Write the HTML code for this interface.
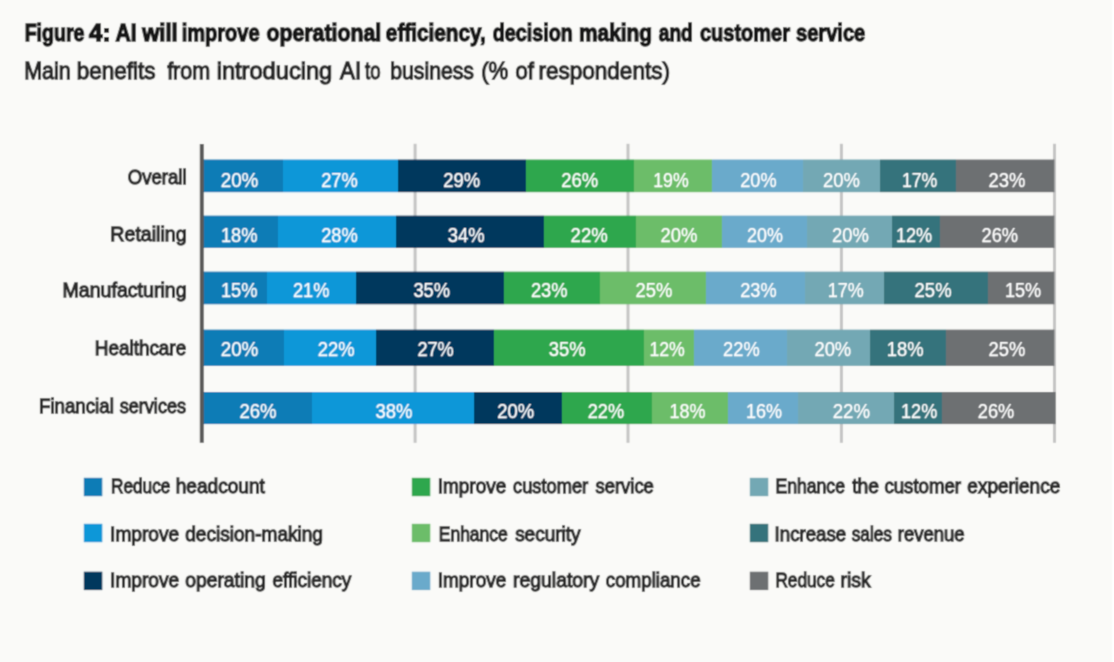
<!DOCTYPE html>
<html lang="en">
<head>
<meta charset="utf-8">
<title>Figure 4: AI will improve operational efficiency, decision making and customer service</title>
<style>
html,body{margin:0;padding:0;background:#fafaf8;}
body{width:1114px;height:662px;overflow:hidden;}
svg{display:block;}
text{font-family:"Liberation Sans",sans-serif;white-space:pre;}
.t{font-weight:bold;font-size:24.3px;fill:#151515;stroke:#151515;stroke-width:1.4px;}
.s{font-size:24px;fill:#272727;stroke:#272727;stroke-width:1.3px;}
.c{font-size:20.5px;fill:#2b2b2b;stroke:#2b2b2b;stroke-width:1.3px;}
.v{font-size:19.6px;fill:#fff;stroke:#fff;stroke-width:0.25px;}
.l{font-size:20.6px;fill:#2b2b2b;stroke:#2b2b2b;stroke-width:1.3px;}
</style>
</head>
<body>
<svg width="1114" height="662" viewBox="0 0 1114 662">
<g filter="url(#soft)">
<rect x="-30" y="-30" width="1174" height="722" fill="#fafaf8"/>
<rect x="1112" y="-30" width="40" height="722" fill="#ffffff"/>
<text class="t" y="40.6"><tspan x="24.68" textLength="59.77" lengthAdjust="spacingAndGlyphs">Figure</tspan> <tspan x="89.04" textLength="21.50" lengthAdjust="spacingAndGlyphs">4:</tspan> <tspan x="115.47" textLength="21.05" lengthAdjust="spacingAndGlyphs">AI</tspan> <tspan x="142.16" textLength="35.52" lengthAdjust="spacingAndGlyphs">will</tspan> <tspan x="181.70" textLength="77.96" lengthAdjust="spacingAndGlyphs">improve</tspan> <tspan x="266.45" textLength="114.74" lengthAdjust="spacingAndGlyphs">operational</tspan> <tspan x="385.87" textLength="99.82" lengthAdjust="spacingAndGlyphs">efficiency,</tspan> <tspan x="492.81" textLength="79.91" lengthAdjust="spacingAndGlyphs">decision</tspan> <tspan x="578.94" textLength="73.14" lengthAdjust="spacingAndGlyphs">making</tspan> <tspan x="658.83" textLength="33.92" lengthAdjust="spacingAndGlyphs">and</tspan> <tspan x="700.00" textLength="89.98" lengthAdjust="spacingAndGlyphs">customer</tspan> <tspan x="796.00" textLength="69.26" lengthAdjust="spacingAndGlyphs">service</tspan></text>
<text class="s" y="79.0"><tspan x="24.18" textLength="46.51" lengthAdjust="spacingAndGlyphs">Main</tspan> <tspan x="76.79" textLength="78.75" lengthAdjust="spacingAndGlyphs">benefits</tspan> <tspan x="167.13" textLength="43.02" lengthAdjust="spacingAndGlyphs">from</tspan> <tspan x="216.65" textLength="115.63" lengthAdjust="spacingAndGlyphs">introducing</tspan> <tspan x="340.09" textLength="21.12" lengthAdjust="spacingAndGlyphs">AI</tspan> <tspan x="365.07" textLength="15.45" lengthAdjust="spacingAndGlyphs">to</tspan> <tspan x="390.27" textLength="83.71" lengthAdjust="spacingAndGlyphs">business</tspan> <tspan x="481.16" textLength="27.16" lengthAdjust="spacingAndGlyphs">(%</tspan> <tspan x="515.52" textLength="18.31" lengthAdjust="spacingAndGlyphs">of</tspan> <tspan x="538.59" textLength="131.30" lengthAdjust="spacingAndGlyphs">respondents)</tspan></text>
<rect x="413.6" y="143.8" width="3" height="299" fill="#c4c4c4"/>
<rect x="626.5" y="143.8" width="3" height="299" fill="#c4c4c4"/>
<rect x="839.9" y="143.8" width="3" height="299" fill="#c4c4c4"/>
<rect x="1053.0" y="143.8" width="3" height="299" fill="#c4c4c4"/>
<defs>
<filter id="soft" x="-20" y="-20" width="1154" height="702" filterUnits="userSpaceOnUse"><feConvolveMatrix order="3" kernelMatrix="0.0900 0.3000 0.0900 0.3000 1.0000 0.3000 0.0900 0.3000 0.0900" edgeMode="duplicate" preserveAlpha="true"/></filter>
<linearGradient id="g0" gradientUnits="userSpaceOnUse" x1="203.0" y1="0" x2="1054.4" y2="0"><stop offset="0.00000" stop-color="#0b7cb6"/><stop offset="0.09396" stop-color="#0b7cb6"/><stop offset="0.09396" stop-color="#0d97d8"/><stop offset="0.22915" stop-color="#0d97d8"/><stop offset="0.22915" stop-color="#05375d"/><stop offset="0.37926" stop-color="#05375d"/><stop offset="0.37926" stop-color="#2fa74e"/><stop offset="0.50646" stop-color="#2fa74e"/><stop offset="0.50646" stop-color="#6cbd69"/><stop offset="0.59796" stop-color="#6cbd69"/><stop offset="0.59796" stop-color="#6aaacb"/><stop offset="0.70472" stop-color="#6aaacb"/><stop offset="0.70472" stop-color="#73a8b4"/><stop offset="0.79528" stop-color="#73a8b4"/><stop offset="0.79528" stop-color="#36737b"/><stop offset="0.88490" stop-color="#36737b"/><stop offset="0.88490" stop-color="#6d7072"/><stop offset="1.00000" stop-color="#6d7072"/></linearGradient>
<linearGradient id="g1" gradientUnits="userSpaceOnUse" x1="203.0" y1="0" x2="1054.4" y2="0"><stop offset="0.00000" stop-color="#0b7cb6"/><stop offset="0.08774" stop-color="#0b7cb6"/><stop offset="0.08774" stop-color="#0d97d8"/><stop offset="0.22692" stop-color="#0d97d8"/><stop offset="0.22692" stop-color="#05375d"/><stop offset="0.40075" stop-color="#05375d"/><stop offset="0.40075" stop-color="#2fa74e"/><stop offset="0.50857" stop-color="#2fa74e"/><stop offset="0.50857" stop-color="#6cbd69"/><stop offset="0.60958" stop-color="#6cbd69"/><stop offset="0.60958" stop-color="#6aaacb"/><stop offset="0.70918" stop-color="#6aaacb"/><stop offset="0.70918" stop-color="#73a8b4"/><stop offset="0.80961" stop-color="#73a8b4"/><stop offset="0.80961" stop-color="#36737b"/><stop offset="0.86563" stop-color="#36737b"/><stop offset="0.86563" stop-color="#6d7072"/><stop offset="1.00000" stop-color="#6d7072"/></linearGradient>
<linearGradient id="g2" gradientUnits="userSpaceOnUse" x1="203.0" y1="0" x2="1054.4" y2="0"><stop offset="0.00000" stop-color="#0b7cb6"/><stop offset="0.07482" stop-color="#0b7cb6"/><stop offset="0.07482" stop-color="#0d97d8"/><stop offset="0.17970" stop-color="#0d97d8"/><stop offset="0.17970" stop-color="#05375d"/><stop offset="0.35354" stop-color="#05375d"/><stop offset="0.35354" stop-color="#2fa74e"/><stop offset="0.46664" stop-color="#2fa74e"/><stop offset="0.46664" stop-color="#6cbd69"/><stop offset="0.59114" stop-color="#6cbd69"/><stop offset="0.59114" stop-color="#6aaacb"/><stop offset="0.70707" stop-color="#6aaacb"/><stop offset="0.70707" stop-color="#73a8b4"/><stop offset="0.79998" stop-color="#73a8b4"/><stop offset="0.79998" stop-color="#36737b"/><stop offset="0.92213" stop-color="#36737b"/><stop offset="0.92213" stop-color="#6d7072"/><stop offset="1.00000" stop-color="#6d7072"/></linearGradient>
<linearGradient id="g3" gradientUnits="userSpaceOnUse" x1="203.0" y1="0" x2="1054.4" y2="0"><stop offset="0.00000" stop-color="#0b7cb6"/><stop offset="0.09537" stop-color="#0b7cb6"/><stop offset="0.09537" stop-color="#0d97d8"/><stop offset="0.20319" stop-color="#0d97d8"/><stop offset="0.20319" stop-color="#05375d"/><stop offset="0.34179" stop-color="#05375d"/><stop offset="0.34179" stop-color="#2fa74e"/><stop offset="0.51797" stop-color="#2fa74e"/><stop offset="0.51797" stop-color="#6cbd69"/><stop offset="0.57705" stop-color="#6cbd69"/><stop offset="0.57705" stop-color="#6aaacb"/><stop offset="0.68616" stop-color="#6aaacb"/><stop offset="0.68616" stop-color="#73a8b4"/><stop offset="0.78365" stop-color="#73a8b4"/><stop offset="0.78365" stop-color="#36737b"/><stop offset="0.87292" stop-color="#36737b"/><stop offset="0.87292" stop-color="#6d7072"/><stop offset="1.00000" stop-color="#6d7072"/></linearGradient>
<linearGradient id="g4" gradientUnits="userSpaceOnUse" x1="203.0" y1="0" x2="1055.7" y2="0"><stop offset="0.00000" stop-color="#0b7cb6"/><stop offset="0.12830" stop-color="#0b7cb6"/><stop offset="0.12830" stop-color="#0d97d8"/><stop offset="0.31828" stop-color="#0d97d8"/><stop offset="0.31828" stop-color="#05375d"/><stop offset="0.42113" stop-color="#05375d"/><stop offset="0.42113" stop-color="#2fa74e"/><stop offset="0.52633" stop-color="#2fa74e"/><stop offset="0.52633" stop-color="#6cbd69"/><stop offset="0.61569" stop-color="#6cbd69"/><stop offset="0.61569" stop-color="#6aaacb"/><stop offset="0.69720" stop-color="#6aaacb"/><stop offset="0.69720" stop-color="#73a8b4"/><stop offset="0.81048" stop-color="#73a8b4"/><stop offset="0.81048" stop-color="#36737b"/><stop offset="0.86666" stop-color="#36737b"/><stop offset="0.86666" stop-color="#6d7072"/><stop offset="1.00000" stop-color="#6d7072"/></linearGradient>
</defs>
<rect x="203.0" y="159.5" width="851.4" height="32.7" fill="url(#g0)"/>
<rect x="203.0" y="215.6" width="851.4" height="32.3" fill="url(#g1)"/>
<rect x="203.0" y="271.6" width="851.4" height="32.7" fill="url(#g2)"/>
<rect x="203.0" y="329.6" width="851.4" height="36.3" fill="url(#g3)"/>
<rect x="203.0" y="392.0" width="852.7" height="32.1" fill="url(#g4)"/>
<rect x="199.8" y="144" width="4" height="298.8" fill="#585858"/>
<text class="c" x="127.67" y="183.5" textLength="58.94" lengthAdjust="spacingAndGlyphs">Overall</text>
<text class="v" x="220.68" y="186.9" textLength="37.63" lengthAdjust="spacingAndGlyphs">20%</text>
<text class="v" x="321.21" y="186.9" textLength="36.59" lengthAdjust="spacingAndGlyphs">27%</text>
<text class="v" x="443.31" y="186.9" textLength="36.79" lengthAdjust="spacingAndGlyphs">29%</text>
<text class="v" x="561.30" y="186.9" textLength="36.90" lengthAdjust="spacingAndGlyphs">26%</text>
<text class="v" x="653.20" y="186.9" textLength="35.48" lengthAdjust="spacingAndGlyphs">19%</text>
<text class="v" x="740.22" y="186.9" textLength="36.38" lengthAdjust="spacingAndGlyphs">20%</text>
<text class="v" x="823.10" y="186.9" textLength="36.90" lengthAdjust="spacingAndGlyphs">20%</text>
<text class="v" x="901.90" y="186.9" textLength="35.48" lengthAdjust="spacingAndGlyphs">17%</text>
<text class="v" x="988.61" y="186.9" textLength="36.79" lengthAdjust="spacingAndGlyphs">23%</text>
<text class="c" x="110.33" y="241.3" textLength="76.27" lengthAdjust="spacingAndGlyphs">Retailing</text>
<text class="v" x="220.96" y="241.5" textLength="36.54" lengthAdjust="spacingAndGlyphs">18%</text>
<text class="v" x="321.21" y="241.5" textLength="36.59" lengthAdjust="spacingAndGlyphs">28%</text>
<text class="v" x="447.84" y="241.5" textLength="36.76" lengthAdjust="spacingAndGlyphs">34%</text>
<text class="v" x="570.60" y="241.5" textLength="37.11" lengthAdjust="spacingAndGlyphs">22%</text>
<text class="v" x="660.60" y="241.5" textLength="36.90" lengthAdjust="spacingAndGlyphs">20%</text>
<text class="v" x="747.03" y="241.5" textLength="35.86" lengthAdjust="spacingAndGlyphs">20%</text>
<text class="v" x="832.01" y="241.5" textLength="36.79" lengthAdjust="spacingAndGlyphs">20%</text>
<text class="v" x="895.97" y="241.5" textLength="36.22" lengthAdjust="spacingAndGlyphs">12%</text>
<text class="v" x="981.51" y="241.5" textLength="36.59" lengthAdjust="spacingAndGlyphs">26%</text>
<text class="c" x="62.53" y="297.1" textLength="124.08" lengthAdjust="spacingAndGlyphs">Manufacturing</text>
<text class="v" x="220.96" y="296.8" textLength="36.54" lengthAdjust="spacingAndGlyphs">15%</text>
<text class="v" x="293.02" y="296.8" textLength="36.38" lengthAdjust="spacingAndGlyphs">21%</text>
<text class="v" x="413.44" y="296.8" textLength="36.56" lengthAdjust="spacingAndGlyphs">35%</text>
<text class="v" x="530.91" y="296.8" textLength="36.59" lengthAdjust="spacingAndGlyphs">23%</text>
<text class="v" x="635.51" y="296.8" textLength="36.79" lengthAdjust="spacingAndGlyphs">25%</text>
<text class="v" x="740.22" y="296.8" textLength="36.38" lengthAdjust="spacingAndGlyphs">23%</text>
<text class="v" x="827.78" y="296.8" textLength="36.01" lengthAdjust="spacingAndGlyphs">17%</text>
<text class="v" x="914.60" y="296.8" textLength="37.00" lengthAdjust="spacingAndGlyphs">25%</text>
<text class="v" x="1004.97" y="296.8" textLength="36.22" lengthAdjust="spacingAndGlyphs">15%</text>
<text class="c" x="94.79" y="354.6" textLength="91.38" lengthAdjust="spacingAndGlyphs">Healthcare</text>
<text class="v" x="220.68" y="355.5" textLength="37.63" lengthAdjust="spacingAndGlyphs">20%</text>
<text class="v" x="317.71" y="355.5" textLength="36.79" lengthAdjust="spacingAndGlyphs">22%</text>
<text class="v" x="417.42" y="355.5" textLength="36.38" lengthAdjust="spacingAndGlyphs">27%</text>
<text class="v" x="548.73" y="355.5" textLength="36.87" lengthAdjust="spacingAndGlyphs">35%</text>
<text class="v" x="649.40" y="355.5" textLength="35.48" lengthAdjust="spacingAndGlyphs">12%</text>
<text class="v" x="723.11" y="355.5" textLength="36.59" lengthAdjust="spacingAndGlyphs">22%</text>
<text class="v" x="814.41" y="355.5" textLength="36.79" lengthAdjust="spacingAndGlyphs">20%</text>
<text class="v" x="886.74" y="355.5" textLength="36.86" lengthAdjust="spacingAndGlyphs">18%</text>
<text class="v" x="988.61" y="355.5" textLength="36.79" lengthAdjust="spacingAndGlyphs">25%</text>
<text class="c" y="413.1"><tspan x="39.01" textLength="74.80" lengthAdjust="spacingAndGlyphs">Financial</tspan> <tspan x="119.75" textLength="66.23" lengthAdjust="spacingAndGlyphs">services</tspan></text>
<text class="v" x="239.50" y="417.8" textLength="37.11" lengthAdjust="spacingAndGlyphs">26%</text>
<text class="v" x="375.43" y="417.8" textLength="36.87" lengthAdjust="spacingAndGlyphs">38%</text>
<text class="v" x="497.20" y="417.8" textLength="36.90" lengthAdjust="spacingAndGlyphs">20%</text>
<text class="v" x="587.72" y="417.8" textLength="36.38" lengthAdjust="spacingAndGlyphs">22%</text>
<text class="v" x="669.48" y="417.8" textLength="36.01" lengthAdjust="spacingAndGlyphs">18%</text>
<text class="v" x="746.08" y="417.8" textLength="36.01" lengthAdjust="spacingAndGlyphs">16%</text>
<text class="v" x="832.69" y="417.8" textLength="37.32" lengthAdjust="spacingAndGlyphs">22%</text>
<text class="v" x="901.07" y="417.8" textLength="36.12" lengthAdjust="spacingAndGlyphs">12%</text>
<text class="v" x="977.81" y="417.8" textLength="36.48" lengthAdjust="spacingAndGlyphs">26%</text>
<rect x="83.8" y="477.8" width="18.5" height="18.4" fill="#0b7cb6"/>
<text class="l" y="493.4"><tspan x="111.03" textLength="59.28" lengthAdjust="spacingAndGlyphs">Reduce</tspan> <tspan x="175.71" textLength="89.10" lengthAdjust="spacingAndGlyphs">headcount</tspan></text>
<rect x="83.8" y="523.8" width="18.5" height="18.4" fill="#0d97d8"/>
<text class="l" y="541.1"><tspan x="110.08" textLength="69.13" lengthAdjust="spacingAndGlyphs">Improve</tspan> <tspan x="185.24" textLength="137.72" lengthAdjust="spacingAndGlyphs">decision-making</tspan></text>
<rect x="83.8" y="571.7" width="18.5" height="18.4" fill="#05375d"/>
<text class="l" y="587.1"><tspan x="110.08" textLength="69.13" lengthAdjust="spacingAndGlyphs">Improve</tspan> <tspan x="185.23" textLength="80.53" lengthAdjust="spacingAndGlyphs">operating</tspan> <tspan x="272.44" textLength="78.87" lengthAdjust="spacingAndGlyphs">efficiency</tspan></text>
<rect x="411.8" y="477.8" width="18.5" height="18.4" fill="#2fa74e"/>
<text class="l" y="493.4"><tspan x="437.69" textLength="68.61" lengthAdjust="spacingAndGlyphs">Improve</tspan> <tspan x="513.07" textLength="75.05" lengthAdjust="spacingAndGlyphs">customer</tspan> <tspan x="595.54" textLength="58.29" lengthAdjust="spacingAndGlyphs">service</tspan></text>
<rect x="411.8" y="523.8" width="18.5" height="18.4" fill="#6cbd69"/>
<text class="l" y="541.1"><tspan x="438.81" textLength="68.89" lengthAdjust="spacingAndGlyphs">Enhance</tspan> <tspan x="515.13" textLength="65.38" lengthAdjust="spacingAndGlyphs">security</tspan></text>
<rect x="411.8" y="571.7" width="18.5" height="18.4" fill="#6aaacb"/>
<text class="l" y="587.1"><tspan x="437.69" textLength="68.61" lengthAdjust="spacingAndGlyphs">Improve</tspan> <tspan x="513.09" textLength="86.10" lengthAdjust="spacingAndGlyphs">regulatory</tspan> <tspan x="605.85" textLength="94.71" lengthAdjust="spacingAndGlyphs">compliance</tspan></text>
<rect x="749.8" y="477.8" width="18.5" height="18.4" fill="#73a8b4"/>
<text class="l" y="493.4"><tspan x="775.40" textLength="69.61" lengthAdjust="spacingAndGlyphs">Enhance</tspan> <tspan x="852.26" textLength="26.81" lengthAdjust="spacingAndGlyphs">the</tspan> <tspan x="884.46" textLength="76.57" lengthAdjust="spacingAndGlyphs">customer</tspan> <tspan x="967.34" textLength="92.86" lengthAdjust="spacingAndGlyphs">experience</tspan></text>
<rect x="749.8" y="523.8" width="18.5" height="18.4" fill="#36737b"/>
<text class="l" y="541.1"><tspan x="774.62" textLength="71.53" lengthAdjust="spacingAndGlyphs">Increase</tspan> <tspan x="851.68" textLength="40.27" lengthAdjust="spacingAndGlyphs">sales</tspan> <tspan x="897.85" textLength="66.81" lengthAdjust="spacingAndGlyphs">revenue</tspan></text>
<rect x="749.8" y="571.7" width="18.5" height="18.4" fill="#6d7072"/>
<text class="l" y="587.1"><tspan x="775.43" textLength="59.39" lengthAdjust="spacingAndGlyphs">Reduce</tspan> <tspan x="840.59" textLength="30.06" lengthAdjust="spacingAndGlyphs">risk</tspan></text>
</g>
</svg>
</body>
</html>
